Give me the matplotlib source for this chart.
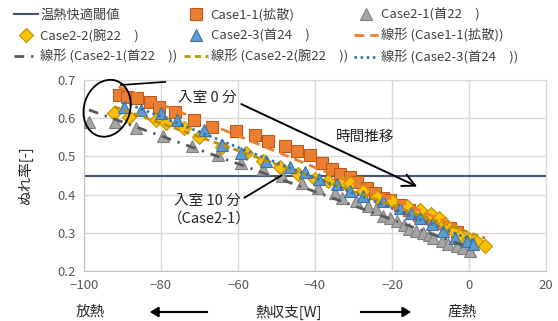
import numpy as np
import matplotlib
matplotlib.use("Agg")
import matplotlib.pyplot as plt
from matplotlib.patches import Ellipse
from matplotlib.transforms import IdentityTransform

plt.rcParams['font.family'] = ['Noto Sans CJK JP', 'DejaVu Sans']

# ---------------- data ----------------
threshold = 0.45

c11_x = [-91.0, -88.8, -86.2, -82.8, -80.5, -76.3, -71.4, -66.7, -60.4, -55.7, -52.1, -47.8,
         -44.6, -41.4, -38.3, -35.7, -33.6, -31.0, -29.2, -26.6, -24.5, -22.4, -20.5, -18.0,
         -15.5, -13.0, -11.0, -9.4, -7.5, -5.0, -3.0]
c11_y = [0.660, 0.655, 0.653, 0.642, 0.629, 0.616, 0.595, 0.576, 0.566, 0.555, 0.540, 0.527,
         0.515, 0.503, 0.484, 0.468, 0.455, 0.445, 0.432, 0.418, 0.403, 0.392, 0.385, 0.372,
         0.360, 0.347, 0.340, 0.335, 0.325, 0.312, 0.302]

c21_x = [-98.7, -91.9, -86.5, -79.4, -71.9, -65.1, -59.1, -53.6, -48.7, -43.3, -39.3, -34.9,
         -33.1, -29.4, -26.3, -24.2, -22.4, -20.5, -18.8, -17.0, -15.6, -13.8, -12.0, -10.5,
         -9.4, -7.0, -5.5, -3.0, -1.5, 0.3]
c21_y = [0.589, 0.589, 0.574, 0.553, 0.526, 0.503, 0.484, 0.468, 0.450, 0.430, 0.418, 0.403,
         0.392, 0.382, 0.371, 0.361, 0.345, 0.340, 0.332, 0.320, 0.311, 0.305, 0.300, 0.293,
         0.287, 0.279, 0.271, 0.265, 0.260, 0.253]

c22_x = [-92.2, -88.3, -81.3, -78.6, -74.0, -70.1, -64.1, -57.8, -53.6, -49.2, -44.5, -40.0,
         -36.5, -33.0, -31.0, -27.5, -24.0, -20.0, -16.0, -12.8, -10.0, -7.8, -6.2, -4.0,
         -2.3, 0.0, 2.0, 4.2]
c22_y = [0.613, 0.603, 0.595, 0.587, 0.574, 0.550, 0.524, 0.508, 0.489, 0.471, 0.455, 0.442,
         0.435, 0.432, 0.430, 0.410, 0.395, 0.384, 0.370, 0.360, 0.350, 0.340, 0.324, 0.305,
         0.292, 0.283, 0.275, 0.266]

c23_x = [-89.6, -85.2, -79.9, -75.8, -68.8, -64.1, -59.1, -52.6, -46.6, -42.7, -39.0, -34.4,
         -31.0, -27.6, -22.4, -18.0, -15.0, -12.8, -9.6, -6.8, -3.6, -0.5, 1.0]
c23_y = [0.629, 0.621, 0.613, 0.595, 0.568, 0.529, 0.508, 0.489, 0.471, 0.458, 0.442, 0.429,
         0.410, 0.397, 0.384, 0.366, 0.352, 0.339, 0.324, 0.305, 0.287, 0.279, 0.271]

x_ticks = [-100, -80, -60, -40, -20, 0, 20]
y_ticks = [0.2, 0.3, 0.4, 0.5, 0.6, 0.7]

lab_thr = '温熱快適閾値'
lab_c11 = 'Case1-1(拡散)'
lab_c21 = 'Case2-1(首22\u3000)'
lab_c22 = 'Case2-2(腕22\u3000)'
lab_c23 = 'Case2-3(首24\u3000)'

# ---------------- figure ----------------
W, H = 558, 321
fig = plt.figure(figsize=(W / 100, H / 100), dpi=100)
ax = fig.add_axes([84 / W, 1 - 271 / H, (546 - 84) / W, (271 - 80) / H])
ax.set_xlim(-100, 20)
ax.set_ylim(0.2, 0.7)
ax.set_xticks(x_ticks)
ax.set_yticks(y_ticks)
ax.set_yticklabels([f'{v:.1f}' for v in y_ticks])
ax.grid(True, color='#D9D9D9', lw=1.0)
ax.set_axisbelow(True)
for s in ax.spines.values():
    s.set_color('#D9D9D9')
ax.spines['bottom'].set_color('#BFBFBF')
ax.spines['left'].set_color('#BFBFBF')
ax.tick_params(length=0, labelsize=9.5, labelcolor='#595959', pad=6)

h_thr, = ax.plot([-100, 20], [threshold, threshold], color='#44546A', lw=1.5, label=lab_thr, zorder=2)

h11, = ax.plot(c11_x, c11_y, 's', ms=8, mfc='#ED7D31', mec='#B85A1E', mew=0.8, ls='none', label=lab_c11, zorder=3)
h21, = ax.plot(c21_x, c21_y, '^', ms=8.5, mfc='#A5A5A5', mec='#7F7F7F', mew=0.8, ls='none', label=lab_c21, zorder=3)
h22, = ax.plot(c22_x, c22_y, 'D', ms=7, mfc='#FFC000', mec='#BF9000', mew=0.8, ls='none', label=lab_c22, zorder=3)
h23, = ax.plot(c23_x, c23_y, '^', ms=8.5, mfc='#5B9BD5', mec='#41719C', mew=0.8, ls='none', label=lab_c23, zorder=3)


def trend(xs, ys):
    xs = np.asarray(xs)
    p = np.polyfit(xs, ys, 1)
    xx = np.array([xs.min(), xs.max()])
    return xx, np.polyval(p, xx)


tx, ty = trend(c11_x, c11_y)
t11, = ax.plot(tx, ty, color='#ED7D31', lw=2, dashes=(3.5, 2.2), label='線形 (' + lab_c11 + ')', zorder=4)
tx, ty = trend(c21_x, c21_y)
t21, = ax.plot(tx, ty, color='#595959', lw=2, dashes=(3.5, 2.5, 0.8, 2.5), label='線形 (' + lab_c21 + ')', zorder=4)
tx, ty = trend(c22_x, c22_y)
t22, = ax.plot(tx, ty, color='#BF9000', lw=2, dashes=(2.2, 1.6), label='線形 (' + lab_c22 + ')', zorder=4)
tx, ty = trend(c23_x, c23_y)
t23, = ax.plot(tx, ty, color='#2E75B6', lw=2, dashes=(0.9, 1.3), label='線形 (' + lab_c23 + ')', zorder=4)

# legend (column-major order)
handles = [h_thr, h22, t21, h11, h23, t22, h21, t11, t23]
leg = fig.legend(handles=handles, labels=[h.get_label() for h in handles], ncol=3,
                 loc='upper left', bbox_to_anchor=(14 / W, 1 - 8 / H), frameon=False,
                 fontsize=9.5, handlelength=1.8, handletextpad=0.2, columnspacing=0.5,
                 labelspacing=0.55, borderaxespad=0, borderpad=0)
for t in leg.get_texts():
    t.set_color('#404040')

# ---------------- annotations ----------------
fig.canvas.draw()
cx, cy = ax.transData.transform((-94.0, 0.626))
ell = Ellipse((cx, cy), width=46, height=58, angle=-18, fill=False, ec='black', lw=1.3,
              transform=IdentityTransform(), zorder=6)
fig.add_artist(ell)
ax.plot([-90.4, -78.9], [0.687, 0.695], color='black', lw=1.2, zorder=6, clip_on=False)

ax.text(-68, 0.653, '入室 0 分', fontsize=10.5, ha='center', va='center', color='#262626', zorder=7)
ax.annotate('', xy=(-12.8, 0.418), xytext=(-59.8, 0.640),
            arrowprops=dict(arrowstyle='->,head_length=0.9,head_width=0.45', color='black', lw=1.4),
            zorder=6)
ax.text(-27.1, 0.552, '時間推移', fontsize=10.5, ha='center', va='center', color='#262626', zorder=7)

ax.text(-68, 0.383, '入室 10 分', fontsize=10.5, ha='center', va='center', color='#262626', zorder=7)
ax.text(-67.5, 0.337, '（Case2-1）', fontsize=10.5, ha='center', va='center', color='#262626', zorder=7)
ax.plot([-58.3, -48.7], [0.392, 0.450], color='black', lw=1.3, zorder=6)

# axis titles and bottom arrows
fig.text(25 / W, 1 - 175 / H, 'ぬれ率[-]', rotation=90, fontsize=10.5, ha='center', va='center', color='#262626')
yb = 1 - 312 / H
fig.text(289 / W, yb, '熱収支[W]', fontsize=10.5, ha='center', va='center', color='#262626')
fig.text(90 / W, yb, '放熱', fontsize=10.5, ha='center', va='center', color='#262626')
fig.text(462 / W, yb, '産熱', fontsize=10.5, ha='center', va='center', color='#262626')
fig.add_artist(matplotlib.patches.FancyArrowPatch((210 / W, yb), (147 / W, yb), transform=fig.transFigure,
               arrowstyle='-|>,head_length=5,head_width=3', color='black', lw=1.5))
fig.add_artist(matplotlib.patches.FancyArrowPatch((358 / W, yb), (414 / W, yb), transform=fig.transFigure,
               arrowstyle='-|>,head_length=5,head_width=3', color='black', lw=1.5))

fig.savefig('out.png', dpi=100)
